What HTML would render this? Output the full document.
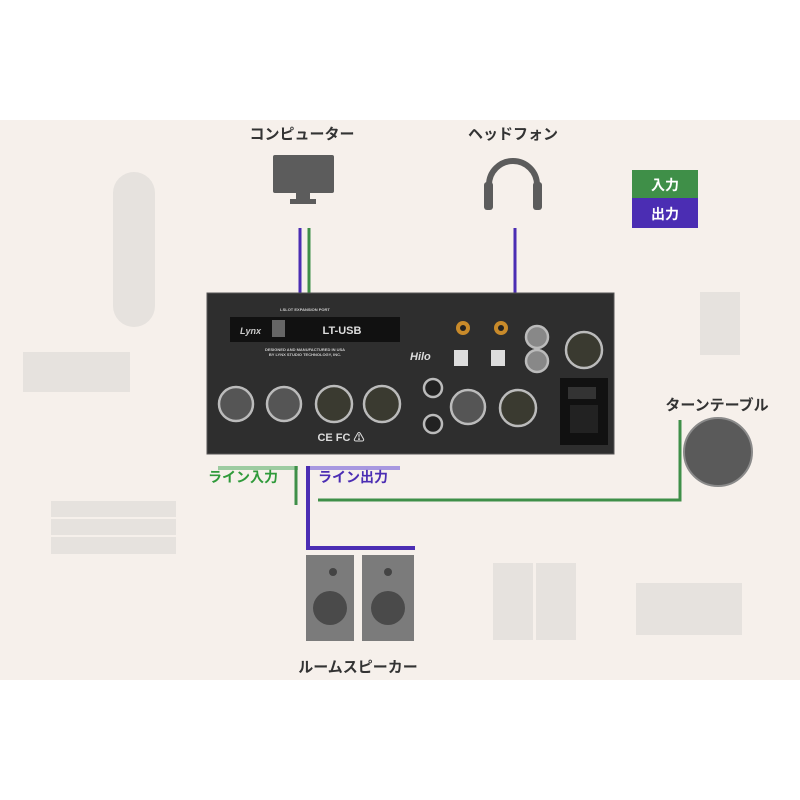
<!DOCTYPE html>
<html><head><meta charset="utf-8"><style>
body{margin:0;background:#fff}
svg{display:block}
text{font-family:"Liberation Sans","Noto Sans CJK JP",sans-serif;font-weight:bold}
</style></head><body>
<svg width="800" height="800" viewBox="0 0 800 800" xmlns="http://www.w3.org/2000/svg">
<rect x="0" y="0" width="800" height="800" fill="#fff"/>
<rect x="0" y="120" width="800" height="560" fill="#f6f0eb"/>
<!-- faded background items -->
<rect x="113" y="172" width="42" height="155" rx="21" fill="#e6e2de"/>
<rect x="23" y="352" width="107" height="40" fill="#e6e2de"/>
<g fill="#e6e2de" stroke="#f6f0eb" stroke-width="2">
<rect x="50" y="500" width="127" height="18"/><rect x="50" y="518" width="127" height="18"/><rect x="50" y="536" width="127" height="19"/>
</g>
<rect x="700" y="292" width="40" height="63" fill="#e6e2de"/>
<rect x="636" y="583" width="106" height="52" fill="#e6e2de"/>
<rect x="493" y="563" width="40" height="77" fill="#e6e2de"/>
<rect x="536" y="563" width="40" height="77" fill="#e6e2de"/>
<!-- labels -->
<text x="302" y="139" font-size="15" text-anchor="middle" fill="#333">コンピューター</text>
<text x="513" y="139" font-size="15" text-anchor="middle" fill="#333">ヘッドフォン</text>
<text x="717" y="410" font-size="15" text-anchor="middle" fill="#333">ターンテーブル</text>
<text x="358" y="672" font-size="15" text-anchor="middle" fill="#333">ルームスピーカー</text>
<!-- monitor -->
<rect x="273" y="155" width="61" height="38" rx="2" fill="#5c5c5c"/>
<rect x="296" y="193" width="14" height="6" fill="#5c5c5c"/>
<rect x="290" y="199" width="26" height="5" fill="#5c5c5c"/>
<!-- headphones -->
<path d="M489 200 V185 A24 24 0 0 1 537 185 V200" fill="none" stroke="#5c5c5c" stroke-width="6"/>
<rect x="484" y="182" width="9" height="28" rx="3" fill="#5c5c5c"/>
<rect x="533" y="182" width="9" height="28" rx="3" fill="#5c5c5c"/>
<!-- legend -->
<rect x="632" y="170" width="66" height="28" fill="#3f8f48"/>
<rect x="632" y="198" width="66" height="30" fill="#4b2db3"/>
<text x="665" y="190" font-size="14" text-anchor="middle" fill="#fff">入力</text>
<text x="665" y="219" font-size="14" text-anchor="middle" fill="#fff">出力</text>
<!-- cables -->
<line x1="300" y1="228" x2="300" y2="293" stroke="#4b2db3" stroke-width="3"/>
<line x1="309" y1="228" x2="309" y2="293" stroke="#3f8f48" stroke-width="3"/>
<line x1="515" y1="228" x2="515" y2="293" stroke="#4b2db3" stroke-width="3"/>
<line x1="218" y1="468" x2="298" y2="468" stroke="#9dcba0" stroke-width="4"/>
<line x1="310" y1="468" x2="400" y2="468" stroke="#a898e0" stroke-width="4"/>
<line x1="296" y1="466" x2="296" y2="505" stroke="#3f8f48" stroke-width="3"/>
<polyline points="308,466 308,548 415,548" fill="none" stroke="#4b2db3" stroke-width="4"/>
<polyline points="318,500 680,500 680,420" fill="none" stroke="#3f8f48" stroke-width="3"/>
<text x="208" y="482" font-size="14" fill="#2f9a3a">ライン入力</text>
<text x="318" y="482" font-size="14" fill="#4b2db3">ライン出力</text>
<!-- turntable -->
<circle cx="718" cy="452" r="34" fill="#5a5a5a" stroke="#8a8a8a" stroke-width="2"/>
<!-- speakers -->
<rect x="306" y="555" width="48" height="86" fill="#7b7b7b"/>
<rect x="362" y="555" width="52" height="86" fill="#7b7b7b"/>
<circle cx="333" cy="572" r="4" fill="#444"/><circle cx="388" cy="572" r="4" fill="#444"/>
<circle cx="330" cy="608" r="17" fill="#4a4a4a"/><circle cx="388" cy="608" r="17" fill="#4a4a4a"/>
<!-- device -->
<rect x="207" y="293" width="407" height="161" fill="#2e2e2e" stroke="#555" stroke-width="1"/>
<rect x="230" y="317" width="170" height="25" fill="#111"/>
<text x="240" y="334" font-size="9" fill="#ccc" font-style="italic">Lynx</text>
<rect x="272" y="320" width="13" height="17" fill="#666"/>
<text x="342" y="334" font-size="11" fill="#ddd" text-anchor="middle">LT-USB</text>
<text x="305" y="311" font-size="4" fill="#ccc" text-anchor="middle">LSLOT EXPANSION PORT</text>
<text x="305" y="351" font-size="4" fill="#ccc" text-anchor="middle">DESIGNED AND MANUFACTURED IN USA</text>
<text x="305" y="356" font-size="4" fill="#ccc" text-anchor="middle">BY LYNX STUDIO TECHNOLOGY, INC.</text>
<text x="410" y="360" font-size="11" fill="#ddd" font-style="italic" font-family="Liberation Serif">Hilo</text>
<g fill="#555" stroke="#bbb" stroke-width="2.5">
<circle cx="236" cy="404" r="17"/><circle cx="284" cy="404" r="17"/>
<circle cx="334" cy="404" r="18" fill="#3a3a30"/><circle cx="382" cy="404" r="18" fill="#3a3a30"/>
<circle cx="468" cy="407" r="17"/><circle cx="518" cy="408" r="18" fill="#3a3a30"/>
<circle cx="433" cy="388" r="9" fill="#222"/><circle cx="433" cy="424" r="9" fill="#222"/>
<circle cx="537" cy="337" r="11" fill="#888"/><circle cx="537" cy="361" r="11" fill="#888"/>
<circle cx="584" cy="350" r="18" fill="#3a3a30"/>
</g>
<circle cx="463" cy="328" r="7" fill="#c88a2a"/><circle cx="463" cy="328" r="3" fill="#222"/>
<circle cx="501" cy="328" r="7" fill="#c88a2a"/><circle cx="501" cy="328" r="3" fill="#222"/>
<rect x="454" y="350" width="14" height="16" fill="#ddd"/><rect x="491" y="350" width="14" height="16" fill="#ddd"/>
<rect x="560" y="378" width="48" height="67" fill="#111"/>
<rect x="568" y="387" width="28" height="12" fill="#333"/>
<rect x="570" y="405" width="28" height="28" fill="#222"/>
<text x="341" y="441" font-size="11" fill="#ddd" text-anchor="middle">CE FC ⚠</text>
</svg>
</body></html>
